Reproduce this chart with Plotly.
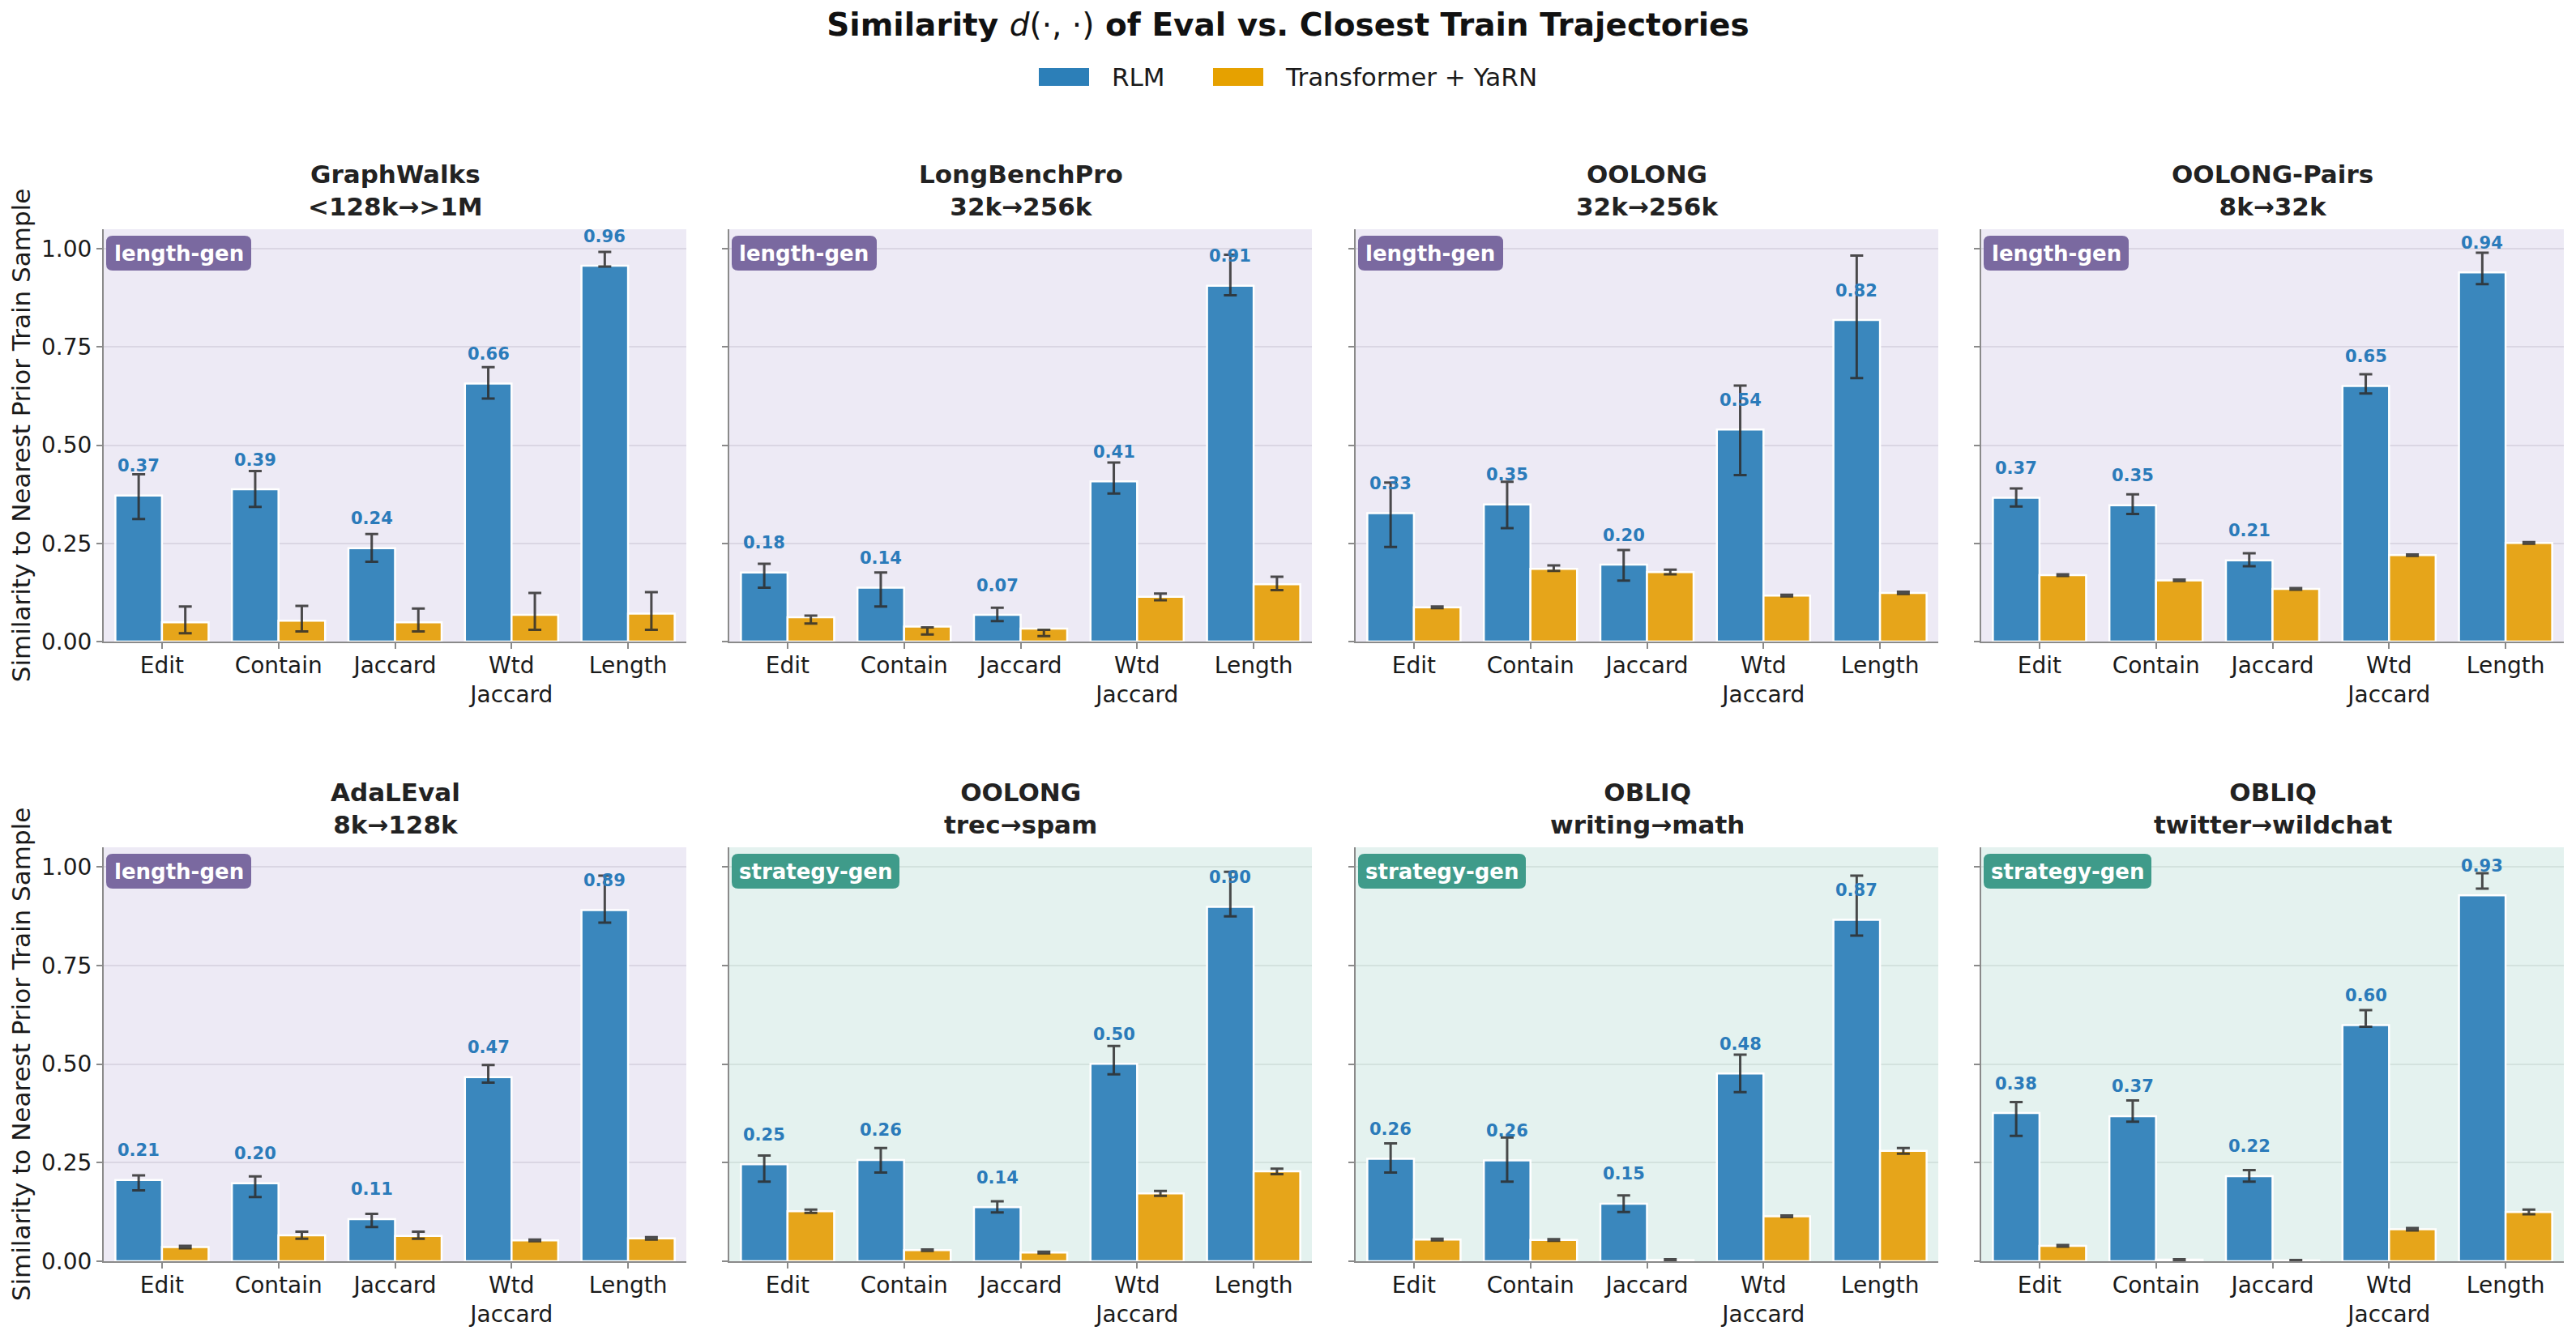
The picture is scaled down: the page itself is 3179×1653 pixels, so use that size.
import plotly.graph_objects as go

# ---------------- data ----------------
metrics = ["Edit", "Contain", "Jaccard", "Wtd<br>Jaccard", "Length"]
series_names = ["RLM", "Transformer + YaRN"]

panel_names = ["GraphWalks", "LongBenchPro", "OOLONG", "OOLONG-Pairs",
               "AdaLEval", "OOLONG", "OBLIQ", "OBLIQ"]
panel_shifts = ["&lt;128k→&gt;1M", "32k→256k", "32k→256k", "8k→32k",
                "8k→128k", "trec→spam", "writing→math", "twitter→wildchat"]
panel_kind = ["length-gen", "length-gen", "length-gen", "length-gen",
              "length-gen", "strategy-gen", "strategy-gen", "strategy-gen"]

rlm_mean = [
    [0.372, 0.388, 0.238, 0.657, 0.957],
    [0.176, 0.137, 0.068, 0.408, 0.906],
    [0.327, 0.349, 0.196, 0.540, 0.819],
    [0.366, 0.347, 0.207, 0.651, 0.940],
    [0.206, 0.198, 0.107, 0.467, 0.891],
    [0.246, 0.257, 0.137, 0.501, 0.899],
    [0.260, 0.256, 0.146, 0.476, 0.866],
    [0.376, 0.368, 0.216, 0.599, 0.928],
]
rlm_lo = [
    [0.312, 0.343, 0.203, 0.619, 0.955],
    [0.137, 0.089, 0.052, 0.377, 0.882],
    [0.241, 0.289, 0.155, 0.424, 0.671],
    [0.344, 0.325, 0.192, 0.632, 0.910],
    [0.180, 0.163, 0.087, 0.453, 0.859],
    [0.202, 0.225, 0.124, 0.474, 0.875],
    [0.225, 0.202, 0.125, 0.429, 0.826],
    [0.318, 0.354, 0.202, 0.595, 0.945],
]
rlm_hi = [
    [0.426, 0.434, 0.274, 0.699, 0.992],
    [0.198, 0.176, 0.086, 0.456, 0.985],
    [0.405, 0.407, 0.233, 0.652, 0.983],
    [0.390, 0.375, 0.225, 0.681, 0.990],
    [0.218, 0.215, 0.120, 0.498, 0.978],
    [0.268, 0.287, 0.152, 0.546, 0.988],
    [0.299, 0.314, 0.167, 0.524, 0.978],
    [0.404, 0.408, 0.231, 0.637, 0.984],
]
yarn_mean = [
    [0.049, 0.053, 0.049, 0.068, 0.071],
    [0.062, 0.038, 0.033, 0.114, 0.146],
    [0.087, 0.185, 0.177, 0.117, 0.124],
    [0.169, 0.156, 0.134, 0.220, 0.251],
    [0.036, 0.066, 0.064, 0.053, 0.058],
    [0.127, 0.028, 0.022, 0.172, 0.228],
    [0.055, 0.054, 0.003, 0.114, 0.280],
    [0.039, 0.004, 0.002, 0.081, 0.125],
]
yarn_lo = [
    [0.021, 0.026, 0.026, 0.030, 0.030],
    [0.046, 0.018, 0.014, 0.105, 0.131],
    [0.085, 0.180, 0.171, 0.115, 0.121],
    [0.167, 0.154, 0.132, 0.218, 0.249],
    [0.033, 0.057, 0.057, 0.051, 0.055],
    [0.123, 0.026, 0.020, 0.166, 0.221],
    [0.053, 0.052, 0.001, 0.112, 0.273],
    [0.037, 0.003, 0.001, 0.078, 0.119],
]
yarn_hi = [
    [0.089, 0.091, 0.084, 0.124, 0.126],
    [0.066, 0.036, 0.030, 0.122, 0.165],
    [0.089, 0.194, 0.183, 0.119, 0.127],
    [0.171, 0.158, 0.136, 0.222, 0.253],
    [0.039, 0.075, 0.075, 0.055, 0.061],
    [0.131, 0.030, 0.024, 0.178, 0.235],
    [0.057, 0.056, 0.005, 0.116, 0.287],
    [0.041, 0.005, 0.003, 0.084, 0.131],
]

# ---------------- style ----------------
W, H = 3179, 1653
FONT = "DejaVu Sans"
BLUE = "#3a87bd"
ORANGE = "#e6a51a"
LEG_BLUE = "#2c7fb8"
LEG_ORANGE = "#e6a100"
LABEL_BLUE = "#2b7bba"
ERR = "rgba(45,45,45,0.85)"
AXIS = "#8a8a8a"
BG = {"length-gen": "#edeaf5", "strategy-gen": "#e4f2ef"}
BADGE = {"length-gen": "#7a69a0", "strategy-gen": "#3f9b8a"}
BADGE_W = {"length-gen": 179, "strategy-gen": 207}
GRID = {"length-gen": "#dad6e3", "strategy-gen": "#d3e2de"}

col_left = [128, 900, 1673, 2445]
col_w = 719
row_top = [283, 1046]
row_bot = [792, 1557]


def rounded_rect(x0, x1, top, bot, r):
    return (f"M {x0 + r},{top} H {x1 - r} Q {x1},{top} {x1},{top - r} "
            f"V {bot + r} Q {x1},{bot} {x1 - r},{bot} H {x0 + r} "
            f"Q {x0},{bot} {x0},{bot + r} V {top - r} Q {x0},{top} {x0 + r},{top} Z")


fig = go.Figure()
annotations = []
shapes = []

for k in range(8):
    r, c = divmod(k, 4)
    n = k + 1
    xa = "x" if n == 1 else f"x{n}"
    ya = "y" if n == 1 else f"y{n}"
    xkey = "xaxis" if n == 1 else f"xaxis{n}"
    ykey = "yaxis" if n == 1 else f"yaxis{n}"
    kind = panel_kind[k]

    fig.add_trace(go.Bar(
        x=metrics, y=rlm_mean[k], name=series_names[0], legendgroup="rlm",
        showlegend=False, offsetgroup="rlm",
        marker=dict(color=BLUE, line=dict(color="white", width=2.5)),
        error_y=dict(type="data", symmetric=False,
                     array=[h - m for h, m in zip(rlm_hi[k], rlm_mean[k])],
                     arrayminus=[m - l for m, l in zip(rlm_mean[k], rlm_lo[k])],
                     color=ERR, thickness=3, width=8),
        xaxis=xa, yaxis=ya, hoverinfo="skip"))
    fig.add_trace(go.Bar(
        x=metrics, y=yarn_mean[k], name=series_names[1], legendgroup="yarn",
        showlegend=False, offsetgroup="yarn",
        marker=dict(color=ORANGE, line=dict(color="white", width=2.5)),
        error_y=dict(type="data", symmetric=False,
                     array=[h - m for h, m in zip(yarn_hi[k], yarn_mean[k])],
                     arrayminus=[m - l for m, l in zip(yarn_mean[k], yarn_lo[k])],
                     color=ERR, thickness=3, width=8),
        xaxis=xa, yaxis=ya, hoverinfo="skip"))

    x0 = col_left[c] / W
    x1 = (col_left[c] + col_w) / W
    y0 = 1 - row_bot[r] / H
    y1 = 1 - row_top[r] / H

    fig.update_layout({
        xkey: dict(domain=[x0, x1], anchor=ya, type="category",
                   range=[-0.5, 4.5], showline=True, linecolor=AXIS, linewidth=2,
                   ticks="outside", ticklen=7, tickwidth=2, tickcolor=AXIS,
                   ticklabelstandoff=-4,
                   showgrid=False, zeroline=False,
                   tickfont=dict(family=FONT, size=28, color="#1a1a1a")),
        ykey: dict(domain=[y0, y1], anchor=xa, range=[0, 1.05],
                   tickvals=[0, 0.25, 0.5, 0.75, 1.0], tickformat=".2f",
                   showline=True, linecolor=AXIS, linewidth=2,
                   ticks="outside", ticklen=7, tickwidth=2, tickcolor=AXIS,
                   showgrid=True, gridcolor=GRID[kind], gridwidth=2,
                   zeroline=False, showticklabels=(c == 0),
                   tickfont=dict(family=FONT, size=28, color="#1a1a1a"),
                   title=dict(text="Similarity to Nearest Prior Train Sample" if c == 0 else "",
                              font=dict(family=FONT, size=31, color="#1a1a1a"),
                              standoff=4)),
    })

    # panel background
    shapes.append(dict(type="rect", xref=f"{xa} domain", yref=f"{ya} domain",
                       x0=0, x1=1, y0=0, y1=1, fillcolor=BG[kind],
                       line=dict(width=0), layer="below"))

    # panel title
    annotations.append(dict(
        xref=f"{xa} domain", yref=f"{ya} domain", x=0.5, y=1,
        xanchor="center", yanchor="bottom", yshift=8, showarrow=False,
        text=f"<b>{panel_names[k]}</b><br><b>{panel_shifts[k]}</b>",
        font=dict(family=FONT, size=31, color="#222222")))

    # rounded badge
    bw = BADGE_W[kind]
    shapes.append(dict(type="path", xref=f"{xa} domain", yref=f"{ya} domain",
                       xsizemode="pixel", ysizemode="pixel", xanchor=0, yanchor=1,
                       path=rounded_rect(3, 3 + bw, -8, -51, 8),
                       fillcolor=BADGE[kind], line=dict(width=0), layer="above"))
    annotations.append(dict(
        xref=f"{xa} domain", yref=f"{ya} domain", x=0, y=1,
        xanchor="center", yanchor="middle", xshift=3 + bw / 2, yshift=-29.5,
        showarrow=False, text=f"<b>{kind}</b>",
        font=dict(family=FONT, size=26, color="white")))

    # value labels above RLM bars
    for i, v in enumerate(rlm_mean[k]):
        annotations.append(dict(
            xref=xa, yref=ya, x=i - 0.2, y=v + 0.075,
            xanchor="center", yanchor="middle", showarrow=False,
            text=f"<b>{v:.2f}</b>",
            font=dict(family=FONT, size=21, color=LABEL_BLUE)))

# figure-level legend (patches + labels)
leg_y = 1 - 95 / H
leg_items = [(series_names[0], LEG_BLUE, 1282, 1370),
             (series_names[1], LEG_ORANGE, 1497, 1584)]
for name, col, px0, tx in leg_items:
    shapes.append(dict(type="rect", xref="paper", yref="paper",
                       x0=px0 / W, x1=(px0 + 62) / W,
                       y0=1 - 106 / H, y1=1 - 84 / H,
                       fillcolor=col, line=dict(width=0)))
    annotations.append(dict(xref="paper", yref="paper", x=tx / W, y=leg_y,
                            xanchor="left", yanchor="middle", showarrow=False,
                            text=name, font=dict(family=FONT, size=31, color="#1a1a1a")))

fig.update_layout(
    width=W, height=H,
    margin=dict(l=0, r=0, t=0, b=0),
    template="none",
    paper_bgcolor="white",
    plot_bgcolor="rgba(0,0,0,0)",
    barmode="group", bargap=0.2, bargroupgap=0,
    showlegend=False,
    font=dict(family=FONT, color="#1a1a1a"),
    title=dict(text="<b>Similarity </b><i>d</i>(·, ·)<b> of Eval vs. Closest Train Trajectories</b>",
               x=0.5, xanchor="center", y=1 - 30 / H, yanchor="middle",
               font=dict(family=FONT, size=39, color="#111111")),
    annotations=annotations,
    shapes=shapes,
)

fig.write_html("out.html")
